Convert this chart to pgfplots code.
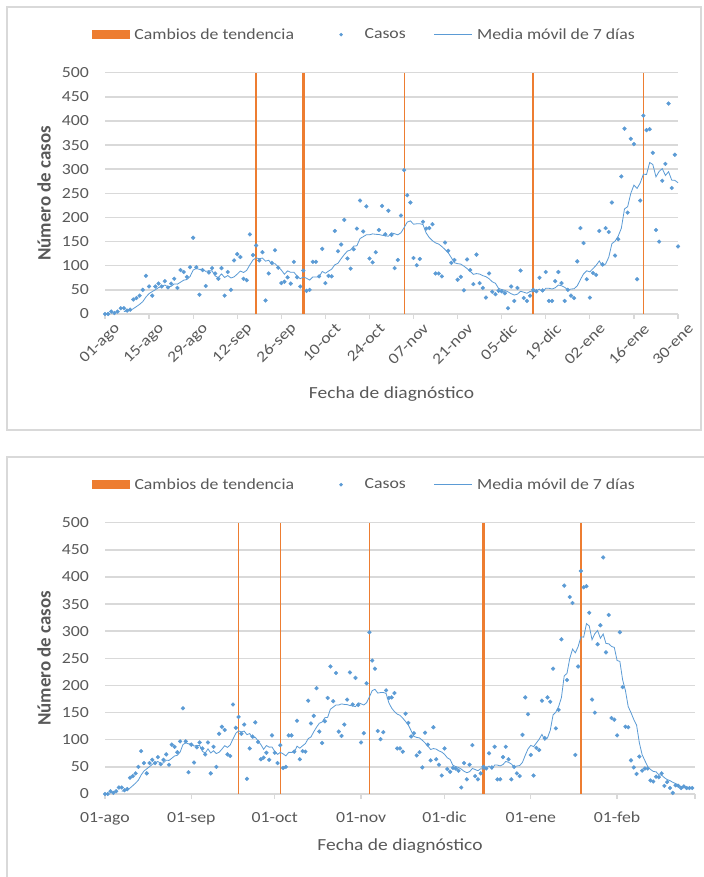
\documentclass[border=0pt]{standalone}
\usepackage{pgfplots}
\pgfplotsset{compat=1.18}
\usepackage{pgfplotstable}
\usepackage{fontspec}
\setmainfont{Carlito}[FakeStretch=1.15]
\newfontfamily\ytfont{Carlito}
\definecolor{orng}{HTML}{ED7D31}
\definecolor{blu}{HTML}{5B9BD5}
\definecolor{grd}{HTML}{D9D9D9}
\definecolor{txt}{HTML}{595959}

\pgfplotstableread{
x y
0 0
1 0
2 5
3 2
4 5
5 12
6 12
7 7
8 9
9 30
10 33
11 38
12 50
13 79
14 57
15 38
16 57
17 63
18 57
19 68
20 55
21 63
22 73
23 54
24 91
25 87
26 77
27 97
28 158
29 97
30 40
31 91
32 58
33 86
34 95
35 84
36 73
37 95
38 38
39 87
40 50
41 111
42 124
43 118
44 73
45 70
46 165
47 122
48 142
49 111
50 128
51 28
52 84
53 106
54 132
55 96
56 64
57 67
58 76
59 63
60 108
61 76
62 57
63 90
64 48
65 50
66 108
67 108
68 78
69 135
70 64
71 79
72 78
73 172
74 130
75 144
76 195
77 115
78 94
79 134
80 177
81 235
82 171
83 223
84 115
85 107
86 128
87 174
88 224
89 165
90 214
91 164
92 95
93 112
94 204
95 298
96 246
97 231
98 116
99 101
100 114
101 191
102 177
103 178
104 186
105 84
106 84
107 78
108 148
109 131
110 106
111 112
112 71
113 77
114 49
115 113
116 91
117 62
118 123
119 64
120 54
121 34
122 84
123 46
124 41
125 48
126 47
127 43
128 12
129 57
130 27
131 54
132 90
133 33
134 27
135 38
136 50
137 47
138 75
139 49
140 87
141 27
142 27
143 68
144 87
145 64
146 27
147 50
148 38
149 33
150 109
151 178
152 147
153 72
154 34
155 85
156 81
157 172
158 103
159 178
160 170
161 231
162 121
163 155
164 285
165 384
166 210
167 363
168 352
169 72
170 235
171 411
172 381
173 383
174 334
175 174
176 150
177 276
178 311
179 436
180 261
181 330
182 140
183 137
184 108
185 298
186 197
187 124
188 123
189 62
190 49
191 37
192 69
193 43
194 47
195 47
196 25
197 23
198 32
199 31
200 38
201 15
202 22
203 11
204 2
205 16
206 15
207 11
208 14
209 11
210 11
211 11
}\casos

\pgfplotstableread{
x y
6 5.1
7 6.1
8 7.4
9 11.0
10 15.4
11 20.1
12 25.6
13 35.1
14 42.3
15 46.4
16 50.3
17 54.6
18 57.3
19 59.9
20 56.4
21 57.3
22 62.3
23 61.9
24 65.9
25 70.1
26 71.4
27 77.4
28 91.0
29 94.4
30 92.4
31 92.4
32 88.3
33 89.6
34 89.3
35 78.7
36 75.3
37 83.1
38 75.6
39 79.7
40 74.6
41 76.9
42 82.6
43 89.0
44 85.9
45 90.4
46 101.6
47 111.9
48 116.3
49 114.4
50 115.9
51 109.4
52 111.4
53 103.0
54 104.4
55 97.9
56 91.1
57 82.4
58 89.3
59 86.3
60 86.6
61 78.6
62 73.0
63 76.7
64 74.0
65 70.3
66 76.7
67 76.7
68 77.0
69 88.1
70 84.4
71 88.9
72 92.9
73 102.0
74 105.1
75 114.6
76 123.1
77 130.4
78 132.6
79 140.6
80 141.3
81 156.3
82 160.1
83 164.1
84 164.1
85 166.0
86 165.1
87 164.7
88 163.1
89 162.3
90 161.0
91 168.0
92 166.3
93 164.0
94 168.3
95 178.9
96 190.4
97 192.9
98 186.0
99 186.9
100 187.1
101 185.3
102 168.0
103 158.3
104 151.9
105 147.3
106 144.9
107 139.7
108 133.6
109 127.0
110 116.7
111 106.1
112 104.3
113 103.3
114 99.1
115 94.1
116 88.4
117 82.1
118 83.7
119 82.7
120 79.4
121 77.3
122 73.1
123 66.7
124 63.7
125 53.0
126 50.6
127 49.0
128 45.9
129 42.0
130 39.3
131 41.1
132 47.1
133 45.1
134 42.9
135 46.6
136 45.6
137 48.4
138 51.4
139 45.6
140 53.3
141 53.3
142 51.7
143 54.3
144 60.0
145 58.4
146 55.3
147 50.0
148 51.6
149 52.4
150 58.3
151 71.3
152 83.1
153 89.6
154 87.3
155 94.0
156 100.9
157 109.9
158 99.1
159 103.6
160 117.6
161 145.7
162 150.9
163 161.4
164 177.6
165 217.7
166 222.3
167 249.9
168 267.1
169 260.1
170 271.6
171 289.6
172 289.1
173 313.9
174 309.7
175 284.3
176 295.4
177 301.3
178 287.0
179 294.9
180 277.4
181 276.9
182 272.0
183 270.1
184 246.1
185 244.3
186 210.1
187 190.6
188 161.0
189 149.9
190 137.3
191 127.1
192 94.4
193 72.4
194 61.4
195 50.6
196 45.3
197 41.6
198 40.9
199 35.4
200 34.7
201 30.1
202 26.6
203 24.6
204 21.6
205 19.3
206 17.0
207 13.1
208 13.0
209 11.4
210 11.4
211 12.7
}\media

\pgfplotsset{
  panel/.style={
    scale only axis, anchor=south west,
    ymin=0, ymax=500, ytick={0,50,...,500},
    axis line style={draw=none},
    ymajorgrids, major grid style={draw=grd, line width=1.5bp},
    tick align=outside, tick pos=left,
    major tick length=5bp,
    xtick style={draw=grd, line width=1.2bp},
    ytick style={draw=none},
    clip=false,
    /pgf/number format/assume math mode=true,
    yticklabel style={font=\fontsize{15.5}{18}\selectfont, text=txt, inner sep=0pt, anchor=east, xshift=-11bp},
    xlabel={Fecha de diagnóstico},
    ylabel={\ytfont\bfseries Número de casos},
    legend columns=3,
    legend cell align=left,
    legend style={draw=none, fill=none, inner sep=0pt, outer sep=0pt, anchor=west,
      font=\fontsize{15.5}{18}\selectfont,
      nodes={inner sep=0pt, text=txt},
      /tikz/every even column/.append style={column sep=28bp},
      /tikz/every odd column/.append style={column sep=4.5bp}},
    barimg/.style={legend image code/.code={\fill[orng, draw=none] (0bp,-4.5bp) rectangle (38bp,4.5bp);}},
    dotimg/.style={legend image code/.code={\path[draw=none, fill=none] (0bp,-0.5bp) rectangle (38bp,0.5bp);
        \fill[blu, draw=none] (19bp,0bp) circle (1.9bp);}},
    lineimg/.style={legend image code/.code={\draw[blu, line width=0.8bp] (0bp,0bp) -- (38bp,0bp);}},
  },
}

\begin{document}
\begin{tikzpicture}[x=1bp,y=1bp]
\useasboundingbox (0,0) rectangle (704,877);
\fill[white] (0,0) rectangle (704,877);
\draw[grd, line width=1.5bp] (7,447) rectangle (701,870);
\draw[grd, line width=1.5bp] (7,-5) -- (7,420) -- (712,420);

% ---------- top panel ----------
\begin{axis}[panel,
  at={(105bp,563bp)}, width=573bp, height=241.3bp,
  xmin=0, xmax=182,
  xtick={0,14,...,182},
  xticklabels={01-ago,15-ago,29-ago,12-sep,26-sep,10-oct,24-oct,07-nov,21-nov,05-dic,19-dic,02-ene,16-ene,30-ene},
  xticklabel style={font=\fontsize{15.5}{18}\selectfont, text=txt, rotate=45, anchor=east, inner sep=0pt, xshift=4bp, yshift=-14bp},
  every axis x label/.style={at={(axis description cs:0.5,-0.352)}, anchor=base, font=\fontsize{17}{20}\selectfont, text=txt},
  every axis y label/.style={at={(axis description cs:-0.1065,0.5)}, rotate=90, anchor=center, font=\fontsize{19}{22}\selectfont, text=txt},
  legend style={at={(-0.0227,1.1575)}},
]
\addlegendimage{barimg}
\addlegendentry{Cambios de tendencia}
\addlegendimage{dotimg}
\addlegendentry{Casos}
\addlegendimage{lineimg}
\addlegendentry{Media móvil de 7 días}
\addplot[orng, line width=2.3bp, forget plot] coordinates {(48,0) (48,500)};
\addplot[orng, line width=2.3bp, forget plot] coordinates {(63,0) (63,500)};
\addplot[orng, line width=1bp, forget plot] coordinates {(95,0) (95,500)};
\addplot[orng, line width=2.3bp, forget plot] coordinates {(136,0) (136,500)};
\addplot[orng, line width=1bp, forget plot] coordinates {(171,0) (171,500)};
\addplot[only marks, mark=*, mark size=1.9bp, color=blu, mark options={draw=none, fill=blu}, forget plot, restrict x to domain=0:182] table[x=x, y=y] {\casos};
\addplot[blu, line width=0.8bp, forget plot, restrict x to domain=0:182] table[x=x, y=y] {\media};
\end{axis}

% ---------- bottom panel ----------
\begin{axis}[panel,
  at={(105bp,83bp)}, width=590bp, height=271.3bp,
  xmin=0, xmax=212,
  xtick={0,31,61,92,122,153,184,212},
  xticklabels={01-ago,01-sep,01-oct,01-nov,01-dic,01-ene,01-feb,{}},
  xticklabel style={font=\fontsize{15.5}{18}\selectfont, text=txt, anchor=north, inner sep=0pt, yshift=-13bp},
  every axis x label/.style={at={(axis description cs:0.5,-0.209)}, anchor=base, font=\fontsize{17}{20}\selectfont, text=txt},
  every axis y label/.style={at={(axis description cs:-0.1034,0.5)}, rotate=90, anchor=center, font=\fontsize{19}{22}\selectfont, text=txt},
  legend style={at={(-0.022,1.140)}},
]
\addlegendimage{barimg}
\addlegendentry{Cambios de tendencia}
\addlegendimage{dotimg}
\addlegendentry{Casos}
\addlegendimage{lineimg}
\addlegendentry{Media móvil de 7 días}
\addplot[orng, line width=1bp, forget plot] coordinates {(48,0) (48,500)};
\addplot[orng, line width=1bp, forget plot] coordinates {(63,0) (63,500)};
\addplot[orng, line width=1.5bp, forget plot] coordinates {(95,0) (95,500)};
\addplot[orng, line width=2.5bp, forget plot] coordinates {(136,0) (136,500)};
\addplot[orng, line width=2.5bp, forget plot] coordinates {(171,0) (171,500)};
\addplot[only marks, mark=*, mark size=1.9bp, color=blu, mark options={draw=none, fill=blu}, forget plot] table[x=x, y=y] {\casos};
\addplot[blu, line width=0.8bp, forget plot] table[x=x, y=y] {\media};
\end{axis}
\end{tikzpicture}
\end{document}
